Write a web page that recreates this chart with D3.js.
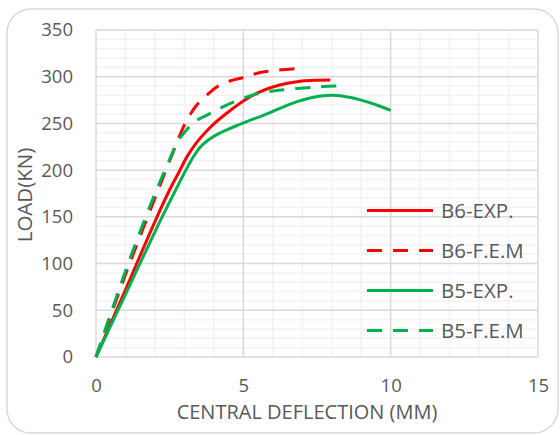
<!DOCTYPE html>
<html>
<head>
<meta charset="utf-8">
<script src="https://cdn.jsdelivr.net/npm/d3@7"></script>
<style>
  html, body { margin: 0; padding: 0; background: #fff; }
  svg { display: block; font-family: "Open Sans", Lato, sans-serif; }
</style>
</head>
<body>
<div id="chart"></div>
<script>
// axis ticks
const xTicks = [0, 5, 10, 15];
const yTicks = [0, 50, 100, 150, 200, 250, 300, 350];

// series values: [deflection mm, load kN]
const b6Exp = [[0,0],[1,72],[2,145],[2.5,179],[2.8,197],[3.1,215],[3.4,229],[3.7,240],[4,249.5],[4.5,262.5],[5,274],[5.5,283],[6,289],[6.5,293],[7,295.5],[7.5,296.3],[7.95,296.5]];
const b6Fem = [[0,0],[1,88],[2,170],[2.6,218],[2.95,245],[3.15,257],[3.4,269],[3.75,280],[4.1,289],[4.5,295],[5.1,300],[5.5,304],[6.2,307],[6.95,309]];
const b5Exp = [[0,0],[1,67],[2,134],[2.5,166],[3.05,200],[3.3,214],[3.55,225],[3.8,232],[4.1,238],[4.5,244],[4.8,248],[5.2,253],[5.7,259],[6.3,267],[6.8,273],[7.3,277.5],[7.8,280],[8.2,280],[8.6,278],[9,275],[9.5,270],[10,264]];
const b5Fem = [[0,0],[1,92],[1.9,167],[2.4,204],[2.8,232],[3.1,244],[3.3,251],[3.8,259.5],[4.2,266],[4.6,272],[5.1,278],[5.5,282],[6.2,285.5],[7.5,289],[8.2,290]];

const seriesNames = ['B6-EXP.', 'B6-F.E.M', 'B5-EXP.', 'B5-F.E.M'];
const seriesData = [b6Exp, b6Fem, b5Exp, b5Fem];
const seriesColors = ['#ff0000', '#ff0000', '#00b050', '#00b050'];
const seriesDashed = [false, true, false, true];

const width = 560, height = 435;
const margin = { top: 30, right: 22, bottom: 78, left: 96 };
const innerW = width - margin.left - margin.right;
const innerH = height - margin.top - margin.bottom;
const textColor = '#595959';

const svg = d3.select('#chart').append('svg')
  .attr('width', width)
  .attr('height', height);

// chart area border
svg.append('rect')
  .attr('x', 7).attr('y', 9)
  .attr('width', 551).attr('height', 424)
  .attr('rx', 24).attr('ry', 24)
  .attr('fill', '#fff')
  .attr('stroke', '#d9d9d9')
  .attr('stroke-width', 1.5);

const g = svg.append('g')
  .attr('transform', `translate(${margin.left},${margin.top})`);

const x = d3.scaleLinear().domain([0, 15]).range([0, innerW]);
const y = d3.scaleLinear().domain([0, 350]).range([innerH, 0]);

// minor grid
g.append('g').selectAll('line')
  .data(d3.range(0, 15.01, 1).filter(v => v % 5 !== 0))
  .join('line')
  .attr('x1', d => x(d)).attr('x2', d => x(d))
  .attr('y1', 0).attr('y2', innerH)
  .attr('stroke', '#f2f2f2').attr('stroke-width', 1.5);

g.append('g').selectAll('line')
  .data(d3.range(0, 350.01, 10).filter(v => v % 50 !== 0))
  .join('line')
  .attr('x1', 0).attr('x2', innerW)
  .attr('y1', d => y(d)).attr('y2', d => y(d))
  .attr('stroke', '#f2f2f2').attr('stroke-width', 1.5);

// major grid
g.append('g').selectAll('line')
  .data(xTicks)
  .join('line')
  .attr('x1', d => x(d)).attr('x2', d => x(d))
  .attr('y1', 0).attr('y2', innerH)
  .attr('stroke', '#d9d9d9').attr('stroke-width', 1.5);

g.append('g').selectAll('line')
  .data(yTicks)
  .join('line')
  .attr('x1', 0).attr('x2', innerW)
  .attr('y1', d => y(d)).attr('y2', d => y(d))
  .attr('stroke', '#d9d9d9').attr('stroke-width', 1.5);

// axes (labels only)
const xAxisG = g.append('g')
  .attr('transform', `translate(0,${innerH})`)
  .call(d3.axisBottom(x).tickValues(xTicks).tickSize(0).tickPadding(22));
const yAxisG = g.append('g')
  .call(d3.axisLeft(y).tickValues(yTicks).tickSize(0).tickPadding(23));

[xAxisG, yAxisG].forEach(a => {
  a.select('.domain').remove();
  a.selectAll('text')
    .attr('fill', textColor)
    .style('font-size', '18.5px')
    .style('font-family', '"Open Sans", Lato, sans-serif');
});

// axis titles
svg.append('text')
  .attr('x', 307)
  .attr('y', 419)
  .attr('text-anchor', 'middle')
  .attr('fill', textColor)
  .style('font-size', '20px')
  .text('CENTRAL DEFLECTION (MM)');

svg.append('text')
  .attr('transform', 'translate(25,195) rotate(-90)')
  .attr('dy', '0.35em')
  .attr('text-anchor', 'middle')
  .attr('fill', textColor)
  .style('font-size', '20.5px')
  .text('LOAD(KN)');

// lines
const line = d3.line()
  .curve(d3.curveCatmullRom.alpha(0.5))
  .x(d => x(d[0]))
  .y(d => y(d[1]));

g.append('g').selectAll('path')
  .data(seriesData)
  .join('path')
  .attr('fill', 'none')
  .attr('stroke', (d, i) => seriesColors[i])
  .attr('stroke-width', 3)
  .attr('stroke-linejoin', 'round')
  .attr('stroke-dasharray', (d, i) => seriesDashed[i] ? '15,11' : null)
  .attr('d', line);

// legend
const legend = svg.append('g').attr('transform', 'translate(367,210.5)');
const item = legend.selectAll('g')
  .data(seriesNames)
  .join('g')
  .attr('transform', (d, i) => `translate(0,${i * 40})`);

item.append('line')
  .attr('x1', 0).attr('x2', 66)
  .attr('y1', 0).attr('y2', 0)
  .attr('stroke', (d, i) => seriesColors[i])
  .attr('stroke-width', 3)
  .attr('stroke-dasharray', (d, i) => seriesDashed[i] ? '15,11' : null);

item.append('text')
  .attr('x', 74)
  .attr('y', 0)
  .attr('dy', '0.35em')
  .attr('fill', textColor)
  .style('font-size', '20.5px')
  .text(d => d);
</script>
</body>
</html>
